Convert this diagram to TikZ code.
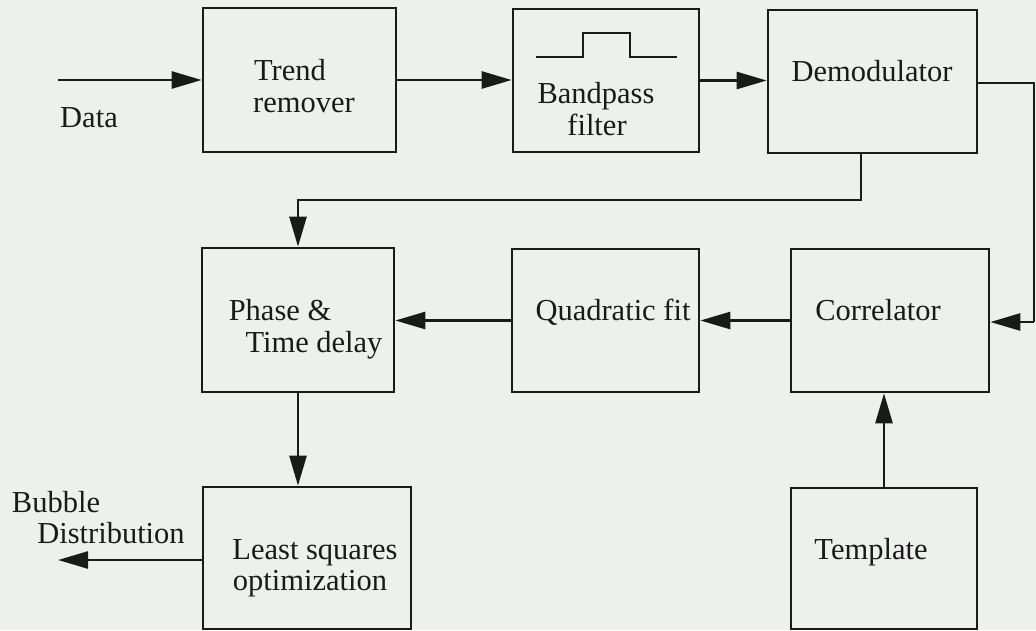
\documentclass[tikz,border=0pt]{standalone}
\usepackage{fontspec}
\setmainfont{Liberation Serif}
\usetikzlibrary{arrows.meta}
\definecolor{paper}{HTML}{EEF0EE}
\definecolor{ink}{HTML}{1A1A1A}
\tikzset{
  block/.style={draw=ink, line width=2.6pt, rectangle, inner sep=0pt},
  lbl/.style={text=ink, inner sep=0pt, anchor=base, font=\fontsize{30.5}{32}\selectfont},
  flow/.style={draw=ink, line width=2.6pt, -{Triangle[length=30pt,width=17pt]}},
  wire/.style={draw=ink, line width=2.6pt},
}
\begin{document}
\begin{tikzpicture}[x=1pt,y=-1pt]
  % page
  \fill[paper] (0,0) rectangle (1036,630);
  \useasboundingbox (0,0) rectangle (1036,630);

  % processing blocks
  \node[block, minimum width=193pt, minimum height=144pt] (trend) at (299.5,80) {};
  \node[block, minimum width=186pt, minimum height=143pt] (band)  at (606,80.5) {};
  \node[block, minimum width=209pt, minimum height=143pt] (demod) at (872.5,81.5) {};
  \node[block, minimum width=192pt, minimum height=144pt] (phase) at (298,320) {};
  \node[block, minimum width=187pt, minimum height=143pt] (quad)  at (605.5,320.5) {};
  \node[block, minimum width=198pt, minimum height=143pt] (corr)  at (890,320.5) {};
  \node[block, minimum width=208pt, minimum height=142pt] (lsq)   at (307,558) {};
  \node[block, minimum width=186pt, minimum height=141pt] (templ) at (884,558.5) {};

  % block captions
  \node[lbl] (trendA) at (290,80) {Trend};
  \node[lbl] (trendB) at (304,112) {remover};
  \node[lbl] (bandA)  at (596,103) {Bandpass};
  \node[lbl] (bandB)  at (597,135) {filter};
  \node[lbl] (demodA) at (872,81) {Demodulator};
  \node[lbl] (phaseA) at (280,320) {Phase \&};
  \node[lbl] (phaseB) at (314,352) {Time delay};
  \node[lbl] (quadA)  at (613,320) {Quadratic fit};
  \node[lbl] (corrA)  at (878,320) {Correlator};
  \node[lbl] (lsqA)   at (315,559) {Least squares};
  \node[lbl] (lsqB)   at (310,590) {optimization};
  \node[lbl] (templA) at (871,559) {Template};

  % free labels
  \node[lbl] (data)   at (89,127) {Data};
  \node[lbl] (bubA)   at (56,512) {Bubble};
  \node[lbl] (bubB)   at (111,543) {Distribution};

  % bandpass symbol
  \draw[wire] (536,57) -- (583,57) -- (583,33) -- (630,33) -- (630,57) -- (677,57);

  % connector ends
  \coordinate (datain) at (58,80);
  \coordinate (bubout) at (58,560);
  \coordinate (rtop)   at (1034,83);
  \coordinate (rbot)   at (1034,322);
  \coordinate (dtap)   at (861,153);
  \coordinate (dturn)  at (861,200);

  % signal path
  \draw[flow] (datain) -- (trend.west);
  \draw[flow] (trend.east) -- (band.west |- trend.east);
  \draw[flow] (band.east) -- (demod.west |- band.east);
  \draw[wire] (demod.east |- rtop) -- (rtop) -- (rbot);
  \draw[flow] (rbot) -- (corr.east |- rbot);
  \draw[flow] (dtap |- demod.south) -- (dturn) -- (dturn -| phase.north) -- (phase.north);
  \draw[flow] (corr.west) -- (quad.east |- corr.west);
  \draw[flow] (quad.west) -- (phase.east |- quad.west);
  \draw[flow] (phase.south) -- (lsq.north -| phase.south);
  \draw[flow] (lsq.west |- bubout) -- (bubout);
  \draw[flow] (templ.north) -- (templ.north |- corr.south);
\end{tikzpicture}
\end{document}
